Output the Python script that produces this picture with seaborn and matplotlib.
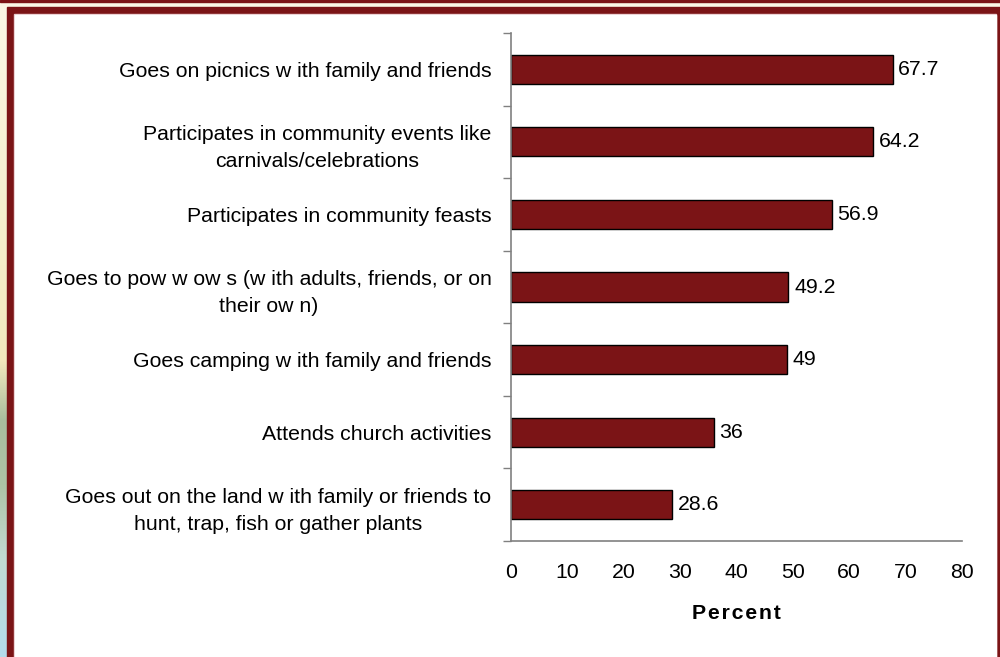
import numpy as np
import pandas as pd
import matplotlib
matplotlib.use("Agg")
import matplotlib.pyplot as plt
from matplotlib.patches import Rectangle
import seaborn as sns

activities = [
    "Goes on picnics w ith family and friends",
    "Participates in community events like\ncarnivals/celebrations",
    "Participates in community feasts",
    "Goes to pow w ow s (w ith adults, friends, or on\ntheir ow n)",
    "Goes camping w ith family and friends",
    "Attends church activities",
    "Goes out on the land w ith family or friends to\nhunt, trap, fish or gather plants",
]
percent = [67.7, 64.2, 56.9, 49.2, 49, 36, 28.6]
value_labels = ["67.7", "64.2", "56.9", "49.2", "49", "36", "28.6"]
x_ticks = [0, 10, 20, 30, 40, 50, 60, 70, 80]

df = pd.DataFrame({"activity": activities, "percent": percent})

sns.set_theme(style="white")
plt.rcParams["font.family"] = ["Liberation Sans", "DejaVu Sans"]
plt.rcParams["text.color"] = "black"
plt.rcParams["axes.labelcolor"] = "black"
plt.rcParams["xtick.color"] = "black"
plt.rcParams["ytick.color"] = "black"

FS = 15.3
W, H = 1000, 657
fig = plt.figure(figsize=(W / 100, H / 100), dpi=100)

# backdrop: soft vertical gradient behind a dark red frame
bg = fig.add_axes([0, 0, 1, 1], zorder=-10)
bg.set_xlim(0, W)
bg.set_ylim(H, 0)
bg.axis("off")
stops = [(0.0, "#fbf8e6"), (0.55, "#f3e9bd"), (0.64, "#a9bd9e"), (0.74, "#aec4a6"),
         (0.85, "#c2dad2"), (1.0, "#b4dcec")]
cmap = matplotlib.colors.LinearSegmentedColormap.from_list("bg", stops)
grad = np.linspace(0, 1, 256).reshape(-1, 1)
bg.imshow(grad, cmap=cmap, aspect="auto", extent=[0, W, H, 0], zorder=0)
frame = "#7b1416"
bg.add_patch(Rectangle((0, 0), W, 1.5, color=frame, zorder=1))
bg.add_patch(Rectangle((7, 7), W - 7, H, color=frame, zorder=1))
bg.add_patch(Rectangle((13.5, 13.5), 996 - 13.5, H, color="#e9c9cc", zorder=2))
bg.add_patch(Rectangle((14.5, 14.5), 995.5 - 14.5, H, color="white", zorder=3))

ax = fig.add_axes([0.511, 1 - 541 / H, 0.962 - 0.511, (541 - 33) / H])
ax.patch.set_alpha(0)
sns.barplot(data=df, x="percent", y="activity", color=frame, saturation=1,
            width=0.4, edgecolor="black", linewidth=1.0, ax=ax)

ax.set_xlim(0, 80)
ax.set_ylim(6.5, -0.5)
ax.set_xticks(x_ticks)
ax.set_xticklabels([str(t) for t in x_ticks], fontsize=FS)
ax.tick_params(axis="x", direction="out", length=6, width=1, color="#808080",
               labelcolor="black", pad=10)

ax.set_yticks(range(len(activities)))
ax.set_yticklabels(activities, fontsize=FS, multialignment="center", linespacing=1.55)
ax.tick_params(axis="y", which="major", length=0, pad=14, labelcolor="black")
ax.set_yticks(np.arange(-0.5, 7, 1), minor=True)
ax.tick_params(axis="y", which="minor", length=6, width=1, color="#808080", left=True)

for side in ["top", "right"]:
    ax.spines[side].set_visible(False)
for side in ["left", "bottom"]:
    ax.spines[side].set_color("#808080")
    ax.spines[side].set_linewidth(1.2)

ax.set_ylabel("")
ax.set_xlabel("\u200a".join("Percent"), fontsize=FS, fontweight="bold",
              labelpad=16, color="black")

for i, (v, lab) in enumerate(zip(percent, value_labels)):
    ax.text(v + 1.0, i, lab, va="center", ha="left", fontsize=FS, color="black")

fig.savefig("out.png", dpi=100)
